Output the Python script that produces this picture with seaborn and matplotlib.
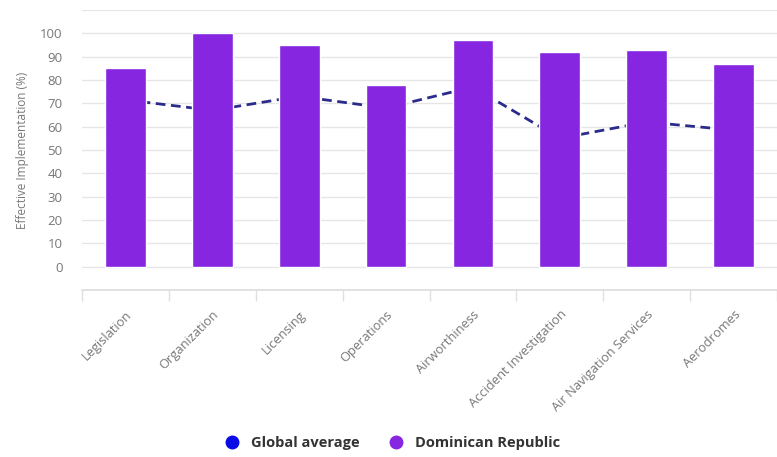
import numpy as np
import pandas as pd
import matplotlib
matplotlib.use('Agg')
import matplotlib.pyplot as plt
from matplotlib.lines import Line2D
import seaborn as sns

# 数据
categories = ['Legislation', 'Organization', 'Licensing', 'Operations',
              'Airworthiness', 'Accident Investigation', 'Air Navigation Services',
              'Aerodromes']
dominican_republic = [85, 100, 95, 78, 97, 92, 93, 87]
global_average = [71.5, 67, 73, 68, 77, 55, 62, 58.5]
y_ticks = list(range(0, 111, 10))
y_tick_labels = [str(t) for t in y_ticks[:-1]] + ['']

bar_color = '#8626e0'
line_color = '#2b2b8c'
legend_blue = '#0a0ae6'
text_gray = '#777777'
grid_gray = '#e6e6e6'

df = pd.DataFrame({'category': categories,
                   'Dominican Republic': dominican_republic,
                   'Global average': global_average})

sns.set_style('white')
plt.rcParams['font.family'] = ['Open Sans', 'DejaVu Sans']

fig = plt.figure(figsize=(7.77, 4.57), dpi=100)
ax = fig.add_axes([82 / 777, 1 - 290 / 457, 1 - 82 / 777, 280 / 457])

# 全球平均虚线（在柱子后面）
sns.pointplot(data=df, x='category', y='Global average', ax=ax,
              color=line_color, linestyle='--', marker='', linewidth=2)
for ln in ax.lines:
    ln.set_zorder(1)
    ln.set_dashes([3.5, 2])

# 柱状图
sns.barplot(data=df, x='category', y='Dominican Republic', ax=ax,
            color=bar_color, width=0.47, saturation=1, zorder=3)

ax.set_xlim(-0.5, len(categories) - 0.5)
ax.set_ylim(-10, 110)
ax.set_yticks(y_ticks)
ax.set_yticklabels(y_tick_labels, color=text_gray, fontsize=9.5)
ax.yaxis.grid(True, color=grid_gray, linewidth=1, zorder=0)
ax.set_axisbelow(True)
ax.tick_params(axis='y', length=0, pad=14)

ax.set_xticks(np.arange(len(categories)))
ax.set_xticklabels(categories, rotation=45, ha='right', rotation_mode='anchor',
                   color=text_gray, fontsize=9.3)
ax.set_xticks(np.arange(len(categories) + 1) - 0.5, minor=True)
ax.tick_params(axis='x', which='major', length=0, pad=13)
ax.tick_params(axis='x', which='minor', length=8, color='#e0e0e0', width=1,
               direction='out', bottom=True)

ax.set_xlabel('')
ax.set_ylabel('Effective Implementation (%)', color=text_gray, fontsize=8.5,
              labelpad=8)

for side in ['top', 'right', 'left']:
    ax.spines[side].set_visible(False)
ax.spines['bottom'].set_color('#dcdcdc')
ax.spines['bottom'].set_linewidth(1.2)

handles = [
    Line2D([], [], marker='o', linestyle='', color=legend_blue, markersize=9),
    Line2D([], [], marker='o', linestyle='', color=bar_color, markersize=9),
]
fig.legend(handles, ['Global average', 'Dominican Republic'],
           loc='center', bbox_to_anchor=(389 / 777, 1 - 443 / 457), ncol=2,
           frameon=False, handletextpad=0.3, columnspacing=1.5,
           prop={'weight': 'bold', 'size': 10.5}, labelcolor='#333333')

fig.savefig('out.png', dpi=100)
